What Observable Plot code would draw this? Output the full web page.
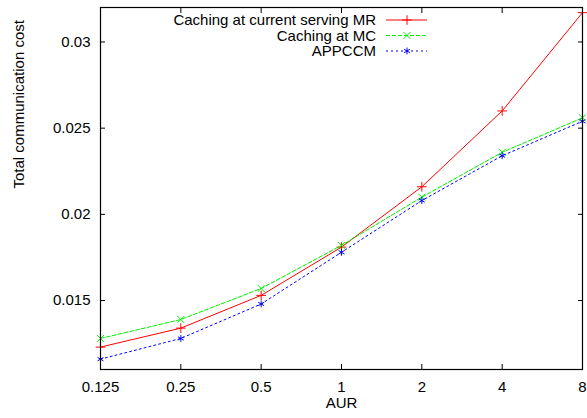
<!DOCTYPE html>
<html>
<head>
<meta charset="utf-8">
<script src="https://cdn.jsdelivr.net/npm/d3@7"></script>
<script src="https://cdn.jsdelivr.net/npm/@observablehq/plot@0.6"></script>
<style>
  html, body { margin: 0; padding: 0; background: #fff; }
  #chart { position: relative; width: 587px; height: 418px; }
</style>
</head>
<body>
<div id="chart"></div>
<script>
const aur = [0.125, 0.25, 0.5, 1, 2, 4, 8];
const xTicks = [0.125, 0.25, 0.5, 1, 2, 4, 8];
const xTickLabels = ["0.125", "0.25", "0.5", "1", "2", "4", "8"];
const yTicks = [0.015, 0.02, 0.025, 0.03];
const yTickLabels = ["0.015", "0.02", "0.025", "0.03"];

const seriesNames = ["Caching at current serving MR", "Caching at MC", "APPCCM"];
const costMR = [0.0123, 0.0134, 0.0153, 0.0181, 0.0216, 0.0260, 0.0317];
const costMC = [0.0128, 0.0139, 0.0157, 0.0182, 0.0210, 0.0236, 0.0256];
const costAPPCCM = [0.0116, 0.0128, 0.0148, 0.0178, 0.0208, 0.0234, 0.0254];

const colors = ["#ff0000", "#00ee00", "#0000ff"];
const dashes = [null, "4,2", "2,3"];
const symbols = ["plus", "times", "asterisk"];

const allSeries = [costMR, costMC, costAPPCCM];
const rows = allSeries.flatMap((vals, si) =>
  vals.map((v, i) => ({series: seriesNames[si], si, aur: aur[i], cost: v})));

const font = "'Liberation Sans', Arial, Helvetica, sans-serif";
const fs = 15;

const marks = [];
allSeries.forEach((vals, si) => {
  const data = rows.filter(r => r.si === si);
  marks.push(Plot.line(data, {x: "aur", y: "cost", stroke: colors[si], strokeWidth: 1,
    strokeDasharray: dashes[si]}));
  marks.push(Plot.dot(data, {x: "aur", y: "cost", stroke: colors[si], symbol: symbols[si],
    r: 3.2, strokeWidth: 1}));
});

const fmtX = d => xTickLabels[xTicks.indexOf(d)];
const fmtY = d => yTickLabels[yTicks.findIndex(t => Math.abs(t - d) < 1e-9)];

const plot = Plot.plot({
  width: 587,
  height: 418,
  marginLeft: 100,
  marginRight: 5,
  marginTop: 7,
  marginBottom: 49,
  style: {fontFamily: font, fontSize: fs + "px", color: "#000", background: "#fff"},
  x: {type: "log", base: 2, domain: [0.125, 8]},
  y: {domain: [0.011, 0.032]},
  marks: [
    ...marks,
    Plot.axisX(xTicks, {anchor: "bottom", tickSize: -5, tickPadding: 17, tickFormat: fmtX, label: null, fontSize: fs}),
    Plot.axisX(xTicks, {anchor: "top", tickSize: -5, tickFormat: () => "", label: null}),
    Plot.axisY(yTicks, {anchor: "left", tickSize: -5, tickPadding: 15, tickFormat: fmtY, label: null, fontSize: fs}),
    Plot.axisY(yTicks, {anchor: "right", tickSize: -5, tickFormat: () => "", label: null}),
    Plot.frame({stroke: "#000", strokeWidth: 1.2}),
    Plot.text(["AUR"], {frameAnchor: "bottom", dy: 38, text: d => d, fontSize: fs}),
    Plot.text(["Total communication cost"], {frameAnchor: "left", dx: -81, rotate: -90, text: d => d, fontSize: fs})
  ]
});

document.getElementById("chart").appendChild(plot);

// Legend inside the plot, top right (gnuplot style)
const svg = d3.select(plot);
const lg = svg.append("g").attr("font-family", font).attr("font-size", fs);
seriesNames.forEach((name, si) => {
  const y = 20 + si * 15.5;
  lg.append("text").attr("x", 376).attr("y", y).attr("dy", "0.35em")
    .attr("text-anchor", "end").attr("fill", "#000").text(name);
  lg.append("line").attr("x1", 386).attr("x2", 427).attr("y1", y).attr("y2", y)
    .attr("stroke", colors[si]).attr("stroke-width", 1)
    .attr("stroke-dasharray", dashes[si]);
  const sym = {plus: d3.symbolPlus, times: d3.symbolTimes, asterisk: d3.symbolAsterisk}[symbols[si]];
  lg.append("path").attr("transform", `translate(407,${y})`)
    .attr("d", d3.symbol(sym, 3.2 * 3.2 * Math.PI)())
    .attr("fill", "none").attr("stroke", colors[si]).attr("stroke-width", 1);
});
</script>
</body>
</html>
